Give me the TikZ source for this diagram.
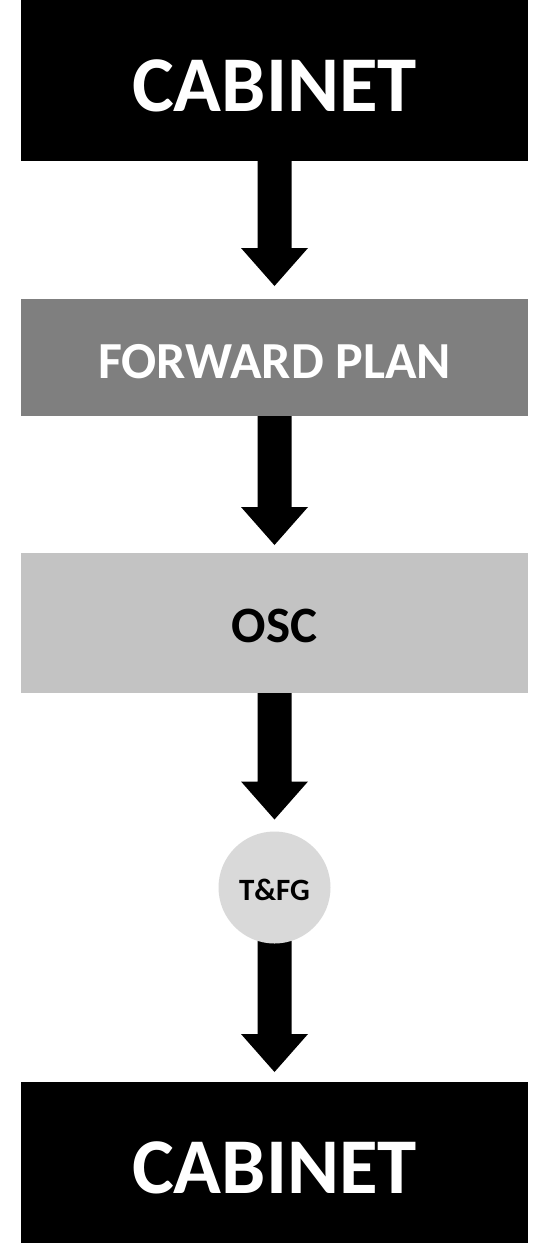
\documentclass[tikz,border=0pt]{standalone}
\usepackage{fontspec}
\setmainfont{Carlito}
\usetikzlibrary{calc,backgrounds}
\definecolor{fpgray}{HTML}{7F7F7F}
\definecolor{oscgray}{HTML}{C3C3C3}
\definecolor{circgray}{HTML}{D9D9D9}
\tikzset{
  box/.style={rectangle, minimum width=507pt, inner sep=0pt, outer sep=0pt, text depth=0pt},
  bigfont/.style={font=\fontsize{79}{79}\selectfont\bfseries, text height=61pt},
  midfont/.style={font=\fontsize{52}{52}\selectfont\bfseries, text height=41pt},
  oscfont/.style={font=\fontsize{51}{51}\selectfont\bfseries, text height=39pt},
  smallfont/.style={font=\fontsize{31}{31}\selectfont\bfseries, text height=26pt, text depth=0pt},
}
\newcommand\flowarrow[3]{%
  \fill[black] ($(#1)+(-17,0)$) -- ($(#1 |- #2)+(-17,-#3-38)$) -- ($(#1 |- #2)+(-33.5,-#3-38)$)
    -- ($(#1 |- #2)+(0,-#3)$) -- ($(#1 |- #2)+(33.5,-#3-38)$) -- ($(#1 |- #2)+(17,-#3-38)$)
    -- ($(#1)+(17,0)$) -- cycle;}
\begin{document}
\begin{tikzpicture}[x=1pt,y=-1pt]
\useasboundingbox (0,0) rectangle (533,1243);
\node[box, bigfont, fill=black, text=white, minimum height=161pt] (top) at (274.5,80.5) {CABINET};
\node[box, midfont, fill=fpgray, text=white, minimum height=117pt] (fp) at (274.5,357.5) {FORWARD PLAN};
\node[box, oscfont, fill=oscgray, text=black, minimum height=140pt] (osc) at (274.5,623) {OSC};
\node[circle, smallfont, fill=circgray, text=black, minimum size=112pt, inner sep=0pt, outer sep=0pt] (tfg) at (274.5,887.5) {T\&FG};
\node[box, bigfont, fill=black, text=white, minimum height=161pt] (bot) at (274.5,1162.5) {CABINET};
\flowarrow{top.south}{fp.north}{13}
\flowarrow{fp.south}{osc.north}{8}
\flowarrow{osc.south}{tfg.north}{12}
\begin{pgfonlayer}{background}
  \fill[white] (0,0) rectangle (533,1243);
  \flowarrow{tfg.center}{bot.north}{10}
\end{pgfonlayer}
\end{tikzpicture}
\end{document}
